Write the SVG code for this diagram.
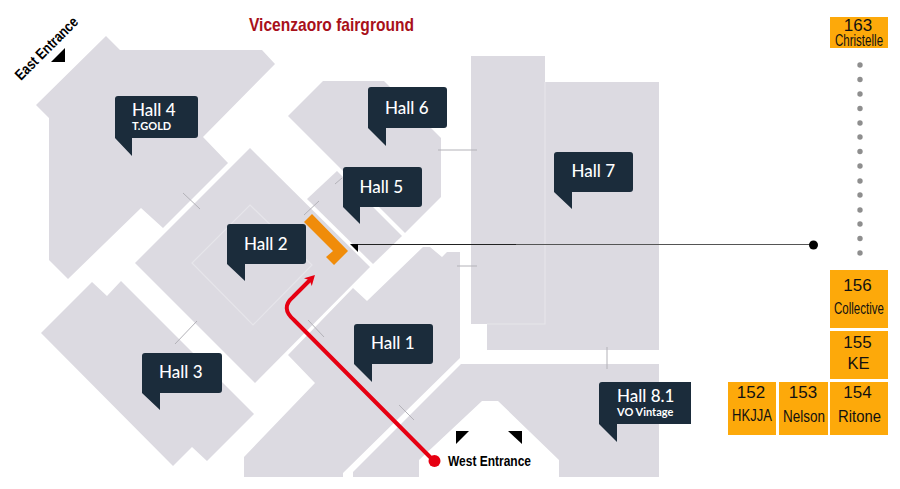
<svg xmlns="http://www.w3.org/2000/svg" width="900" height="489" viewBox="0 0 900 489">
<style>
.hall{fill:#dcdae1}
.seam{fill:none;stroke:#e6e5ea;stroke-width:1.2}
.link{fill:none;stroke:#b3b2b8;stroke-width:1}
.bub{fill:#1b2c3b}
.ht{font-family:Lato,sans-serif;font-weight:500;font-size:17px;fill:#fff}
.hs{font-family:Lato,sans-serif;font-weight:700;font-size:11px;fill:#fff}
.box{fill:#fda90a}
.n{font-family:"Liberation Sans",Arial,sans-serif;font-size:17px;fill:#111;text-anchor:middle}
.l{font-family:"Liberation Sans",Arial,sans-serif;font-size:16.500px;fill:#111;text-anchor:middle}
.ent{font-family:"Liberation Sans",Arial,sans-serif;font-weight:700;font-size:15px;fill:#000}
.tri{fill:#000}
.dot{fill:#8e8e8e}
</style>
<defs><marker id="redhead" markerUnits="userSpaceOnUse" markerWidth="12" markerHeight="12" refX="3" refY="5.500" orient="auto"><path d="M0 0L10 5.500L0 11L2.500 5.500Z" fill="#e60012"/></marker></defs>
<g id="floor">
<polygon id="hall4-shape" class="hall" points="106,36 120,50 262,50 275,64 203,137 228,163 163,228 141,208 68,279 49,260 49,118 36,105"/>
<polygon id="hall2-shape" class="hall" points="250,148 370,267 255,383 135,263"/>
<polygon class="seam" points="250,205 312,265 253,325 192,263"/>
<polygon id="hall3-shape" class="hall" points="41,333 92,282 107,296 121,281 254,414 207,461 192,447 173,466"/>
<polygon id="hall1-shape" class="hall" points="423,247 430,247 442,257 447,252 460,252 460,358 343,473 343,477 244,477 244,457 315,383 288,355 353,288 367,301"/>
<polygon id="hall81-shape" class="hall" points="461,364 659,364 659,477 559,477 559,460 498,401 482,401 419,460 419,477 353,477 353,472"/>
<polygon id="hall7-shape" class="hall" points="471,56 545,56 545,82 659,82 659,350 487,350 487,324 471,324"/>
<path class="seam" d="M545 82V324H487"/>
<polygon id="hall6-shape" class="hall" points="288,116 323,81 384,81 441,138 441,197 405,233 342,170"/>
<polygon id="hall5-shape" class="hall" points="307,199 337,171 402,236 373,264"/>
</g>
<g id="connectors">
<path class="link" d="M183 193L200 209M175 344L197 321M308 320L324 337M304 215L319 201M335 184L342 178M438 150H477M457 266H477M399 405L414 420M607 347V369"/>
<path d="M357 244.500H516" fill="none" stroke="#222" stroke-width="1.200"/>
<path d="M516 244.500H814" fill="none" stroke="#555" stroke-width="1.200"/>
<polygon class="tri" points="350,244 358,244 358,252"/>
<circle cx="813.500" cy="245" r="4.500" fill="#000"/>
<path d="M434 461L294 320Q280 308 293 297L310 280" fill="none" stroke="#e60012" stroke-width="4" marker-end="url(#redhead)"/>
<circle cx="434.500" cy="461" r="6" fill="#e60012"/>
</g>
<polygon id="stand" points="312,214 348,251 334,265 326,257 333,251 304,222" fill="#f08c0a"/>
<g id="hall4"><path class="bub" d="M118 96H195Q198 96 198 99V135Q198 138 195 138H132V156L115 138V99Q115 96 118 96Z"/><text class="ht" x="132" y="116">Hall 4</text><text class="hs" x="132" y="130">T.GOLD</text></g>
<g id="hall6"><path class="bub" d="M371 87H444Q447 87 447 90V125Q447 128 444 128H386V146L368 128V90Q368 87 371 87Z"/><text class="ht" x="385" y="113.500">Hall 6</text></g>
<g id="hall5"><path class="bub" d="M346 167H419Q422 167 422 170V204Q422 207 419 207H360V224L343 207V170Q343 167 346 167Z"/><text class="ht" x="359.500" y="193">Hall 5</text></g>
<g id="hall7"><path class="bub" d="M557 152H630Q633 152 633 155V189Q633 192 630 192H572V209L554 192V155Q554 152 557 152Z"/><text class="ht" x="571.500" y="177">Hall 7</text></g>
<g id="hall2"><path class="bub" d="M230 224H303Q306 224 306 227V261Q306 264 303 264H245V281L227 264V227Q227 224 230 224Z"/><text class="ht" x="244" y="249.500">Hall 2</text></g>
<g id="hall3"><path class="bub" d="M145 353H219Q222 353 222 356V390Q222 393 219 393H160V410L142 393V356Q142 353 145 353Z"/><text class="ht" x="159" y="378">Hall 3</text></g>
<g id="hall1"><path class="bub" d="M357 324H430Q433 324 433 327V361Q433 364 430 364H372V382L354 364V327Q354 324 357 324Z"/><text class="ht" x="371" y="349">Hall 1</text></g>
<g id="hall81"><path class="bub" d="M602 382H691V424H617V442L599 424V385Q599 382 602 382Z"/><text class="ht" x="617" y="402">Hall 8.1</text><text class="hs" x="617" y="416">VO Vintage</text></g>
<text x="249" y="31" font-family="'Liberation Sans',Arial,sans-serif" font-weight="700" font-size="19" fill="#a8101a" textLength="165" lengthAdjust="spacingAndGlyphs">Vicenzaoro fairground</text>
<g id="east-entrance"><text class="ent" transform="translate(21 81) rotate(-45)" textLength="82" lengthAdjust="spacingAndGlyphs">East Entrance</text><polygon class="tri" points="65,48 65,62 51,62"/></g>
<g id="west-entrance"><polygon class="tri" points="456,431 469,431 456,444"/><polygon class="tri" points="508,431 522,431 522,444"/><text class="ent" x="448" y="466" textLength="83" lengthAdjust="spacingAndGlyphs">West Entrance</text></g>
<g id="dots"><circle class="dot" cx="860" cy="65" r="2.700"/><circle class="dot" cx="860" cy="79.500" r="2.700"/><circle class="dot" cx="860" cy="94" r="2.700"/><circle class="dot" cx="860" cy="108.500" r="2.700"/><circle class="dot" cx="860" cy="123" r="2.700"/><circle class="dot" cx="860" cy="137" r="2.700"/><circle class="dot" cx="860" cy="151.500" r="2.700"/><circle class="dot" cx="860" cy="166" r="2.700"/><circle class="dot" cx="860" cy="181" r="2.700"/><circle class="dot" cx="860" cy="195" r="2.700"/><circle class="dot" cx="860" cy="210" r="2.700"/><circle class="dot" cx="860" cy="224" r="2.700"/><circle class="dot" cx="860" cy="238.500" r="2.700"/><circle class="dot" cx="860" cy="253" r="2.700"/></g>
<g id="b163"><rect class="box" x="830" y="17" width="58" height="31"/><text class="n" x="858" y="31">163</text><text class="l" transform="translate(859 45.500) scale(.7 1)">Christelle</text></g>
<g id="b156"><rect class="box" x="830" y="270" width="58" height="58"/><text class="n" x="857.500" y="291">156</text><text class="l" transform="translate(859 314) scale(.7 1)">Collective</text></g>
<g id="b155"><rect class="box" x="830" y="331" width="58" height="48"/><text class="n" x="857.500" y="348">155</text><text class="l" x="858.500" y="369">KE</text></g>
<g id="b154"><rect class="box" x="830" y="382" width="58" height="53"/><text class="n" x="857.500" y="398">154</text><text class="l" transform="translate(859.500 422) scale(.9 1)">Ritone</text></g>
<g id="b153"><rect class="box" x="779" y="382" width="49" height="53"/><text class="n" x="803" y="398">153</text><text class="l" transform="translate(804 422) scale(.82 1)">Nelson</text></g>
<g id="b152"><rect class="box" x="728" y="382" width="48" height="53"/><text class="n" x="751" y="398">152</text><text class="l" transform="translate(752 421) scale(.79 1)">HKJJA</text></g>
</svg>
